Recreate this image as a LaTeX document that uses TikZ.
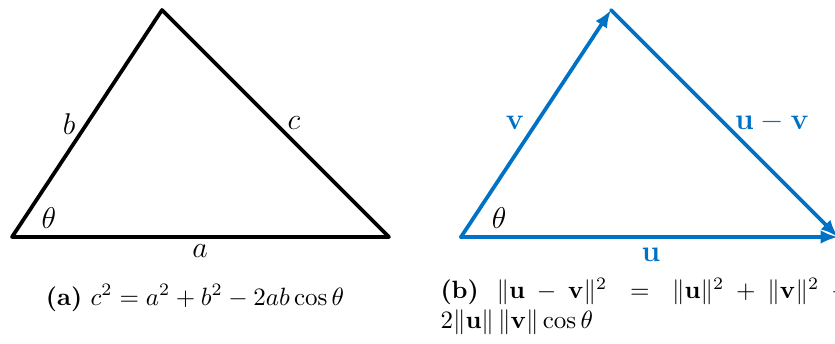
\documentclass[tikz,border=0pt]{standalone}
\usepackage{amsmath}
\usetikzlibrary{arrows.meta}
\definecolor{vecblue}{RGB}{0,114,198}
\tikzset{
  side/.style={line width=1.5pt, line cap=round, line join=round},
  vecside/.style={side, vecblue, -{Latex[length=7pt,width=5.5pt]}},
  lbl/.style={inner sep=0pt, font=\large},
  vlbl/.style={lbl, text=vecblue},
  capt/.style={inner sep=0pt, font=\normalsize}
}
\begin{document}
\begin{tikzpicture}[x=0.4pt, y=-0.4pt]
  % Picture frame: 835 x 343 pixel units
  \useasboundingbox (0,0) rectangle (835,343);
  % (a) Triangle with sides a, b, c
  \coordinate (A) at (12,237);
  \coordinate (B) at (162,10);
  \coordinate (C) at (389,237);
  \draw[side] (A) -- (B) -- (C) -- cycle;
  \node[lbl] (b) at (69,124) {$b$};
  \node[lbl] (c) at (294,123) {$c$};
  \node[lbl] (a) at (200,251) {$a$};
  \node[lbl] (tha) at (49,218) {$\theta$};
  \node[capt, anchor=base] (capa) at (195,305)
    {\textbf{(a)} $c^2 = a^2 + b^2 - 2ab\cos\theta$};
  % (b) Same triangle built from the vectors u, v and u - v
  \coordinate (O) at (461,237);
  \coordinate (V) at (611,10);
  \coordinate (U) at (838,237);
  \draw[vecside] (O) -- (V);
  \draw[vecside] (O) -- (U);
  \draw[vecside] (V) -- (U);
  \node[vlbl] (v) at (515,123) {$\mathbf{v}$};
  \node[vlbl] (umv) at (772,122) {$\mathbf{u}-\mathbf{v}$};
  \node[vlbl] (u) at (651,255) {$\mathbf{u}$};
  \node[lbl] (thb) at (499,218) {$\theta$};
  \node[capt, anchor=north west, text width=164pt, align=justify] (capb) at (440,278)
    {\textbf{(b)} $\|\mathbf{u}-\mathbf{v}\|^2 = \|\mathbf{u}\|^2 + \|\mathbf{v}\|^2 - 2\|\mathbf{u}\|\,\|\mathbf{v}\|\cos\theta$};
\end{tikzpicture}
\end{document}
